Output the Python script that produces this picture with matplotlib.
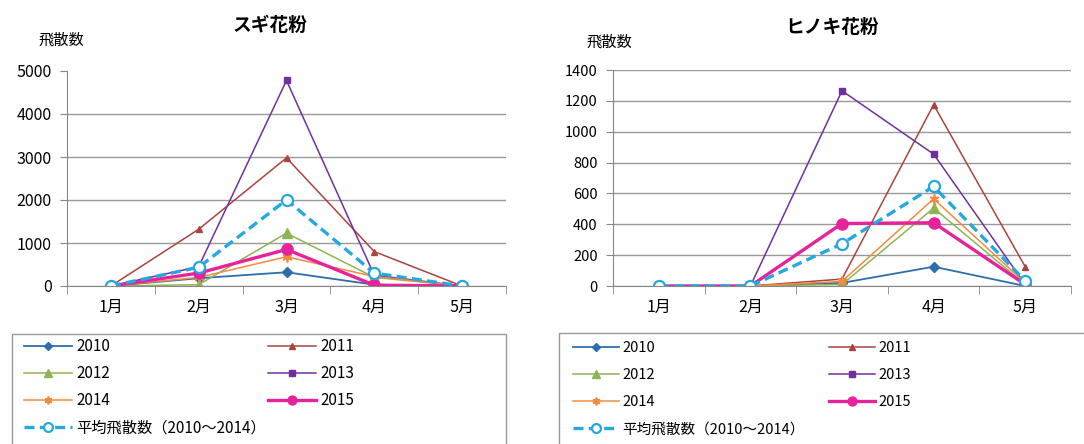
import matplotlib
matplotlib.use("Agg")
import matplotlib.pyplot as plt
from matplotlib.lines import Line2D
from matplotlib.patches import Rectangle

plt.rcParams['font.family'] = ['Noto Sans CJK JP', 'DejaVu Sans']

# === Données ===
mois = ["1月", "2月", "3月", "4月", "5月"]
annees = ["2010", "2011", "2012", "2013", "2014", "2015"]
label_moy = "平均飛散数（2010～2014）"

sugi_2010 = [0, 180, 320, 30, 0]
sugi_2011 = [0, 1320, 2980, 800, 0]
sugi_2012 = [0, 30, 1230, 200, 0]
sugi_2013 = [0, 450, 4780, 250, 0]
sugi_2014 = [0, 200, 680, 220, 0]
sugi_2015 = [0, 300, 850, 20, 0]
sugi_moy = [0, 436, 2002, 300, 0]

hinoki_2010 = [0, 0, 20, 125, 0]
hinoki_2011 = [0, 0, 45, 1175, 125]
hinoki_2012 = [0, 0, 10, 505, 10]
hinoki_2013 = [0, 0, 1265, 855, 10]
hinoki_2014 = [0, 0, 30, 565, 20]
hinoki_2015 = [0, 0, 405, 410, 10]
hinoki_moy = [0, 0, 274, 645, 33]

# Styles des séries
styles = {
    "2010": dict(color="#2C6FAC", marker="D", ms=5, lw=1.3),
    "2011": dict(color="#A9443F", marker="^", ms=5, lw=1.1),
    "2012": dict(color="#8FB454", marker="^", ms=7.5, lw=1.1),
    "2013": dict(color="#7030A0", marker="s", ms=5, lw=1.1),
    "2014": dict(color="#F38B3E", marker=(6, 2, 0), ms=7, lw=1.1, mew=1.3),
    "2015": dict(color="#E6239A", marker="o", ms=8, lw=2.4),
}
style_moy = dict(color="#25A7DF", marker="o", ms=8, lw=2.4, mfc="white",
                 mew=1.6, linestyle=(0, (3, 1.6)))

W, H = 1084, 444
fig = plt.figure(figsize=(W / 100, H / 100), dpi=100)


def boite(x0, y0, x1, y1):
    return [x0 / W, 1 - y1 / H, (x1 - x0) / W, (y1 - y0) / H]


def tracer(ax, series, moy, ymax, pas, titre, tx, ty, lx, ly, fs):
    x = range(len(mois))
    for an, vals in zip(annees, series):
        ax.plot(x, vals, **styles[an])
    ax.plot(x, moy, **style_moy)
    ax.set_xlim(-0.5, len(mois) - 0.5)
    ax.set_ylim(0, ymax)
    ax.set_yticks(range(0, ymax + 1, pas))
    ax.tick_params(axis="y", labelsize=fs, length=5, color="#888888",
                   pad=6)
    ax.set_xticks(list(x))
    ax.set_xticklabels(mois, fontsize=11.5)
    ax.tick_params(axis="x", which="major", length=0, pad=9)
    ax.set_xticks([i - 0.5 for i in range(len(mois) + 1)], minor=True)
    ax.tick_params(axis="x", which="minor", length=6, color="#888888")
    ax.grid(axis="y", color="#999999", lw=1.0)
    ax.set_axisbelow(True)
    for s in ["top", "right"]:
        ax.spines[s].set_visible(False)
    for s in ["left", "bottom"]:
        ax.spines[s].set_color("#888888")
    fig.text(tx / W, 1 - ty / H, titre, fontsize=13.5, fontweight="bold",
             ha="center", va="center")
    fig.text(lx / W, 1 - ly / H, "飛散数", fontsize=11, ha="center",
             va="center")


ax1 = fig.add_axes(boite(67, 71, 506, 286))
tracer(ax1, [sugi_2010, sugi_2011, sugi_2012, sugi_2013, sugi_2014, sugi_2015],
       sugi_moy, 5000, 1000, "スギ花粉", 270, 25, 61, 40, 11.5)
ax1.get_ygridlines()[-1].set_visible(False)

ax2 = fig.add_axes(boite(613, 70, 1071, 286))
tracer(ax2, [hinoki_2010, hinoki_2011, hinoki_2012, hinoki_2013, hinoki_2014,
             hinoki_2015], hinoki_moy, 1400, 200, "ヒノキ花粉", 832, 27, 609, 42,
       10.5)

# Légendes (deux colonnes, cadre coupé en bas)
poignees = {an: Line2D([], [], **styles[an]) for an in annees}
poignees[label_moy] = Line2D([], [], **style_moy)
col_g = ["2010", "2012", "2014", label_moy]
col_d = ["2011", "2013", "2015"]


def legende(x0, x1, x_g, x_d, y_haut, y_texte, fs, esp):
    fig.add_artist(Rectangle((x0 / W, -0.1), (x1 - x0) / W,
                             (1 - y_haut / H) + 0.1,
                             transform=fig.transFigure, fill=False,
                             edgecolor="#999999", lw=1.0))
    for x, noms in [(x_g, col_g), (x_d, col_d)]:
        fig.legend([poignees[n] for n in noms], noms, loc="upper left",
                   bbox_to_anchor=(x / W, 1 - y_texte / H),
                   frameon=False, fontsize=fs, handlelength=3.15,
                   handletextpad=0.25, labelspacing=esp, borderpad=0,
                   borderaxespad=0, markerscale=0.8)


legende(12, 506, 24, 268, 334, 338, 11, 0.66)
legende(559, 1100, 573, 829, 333, 341, 10.5, 0.9)

fig.savefig("out.png", dpi=100)
